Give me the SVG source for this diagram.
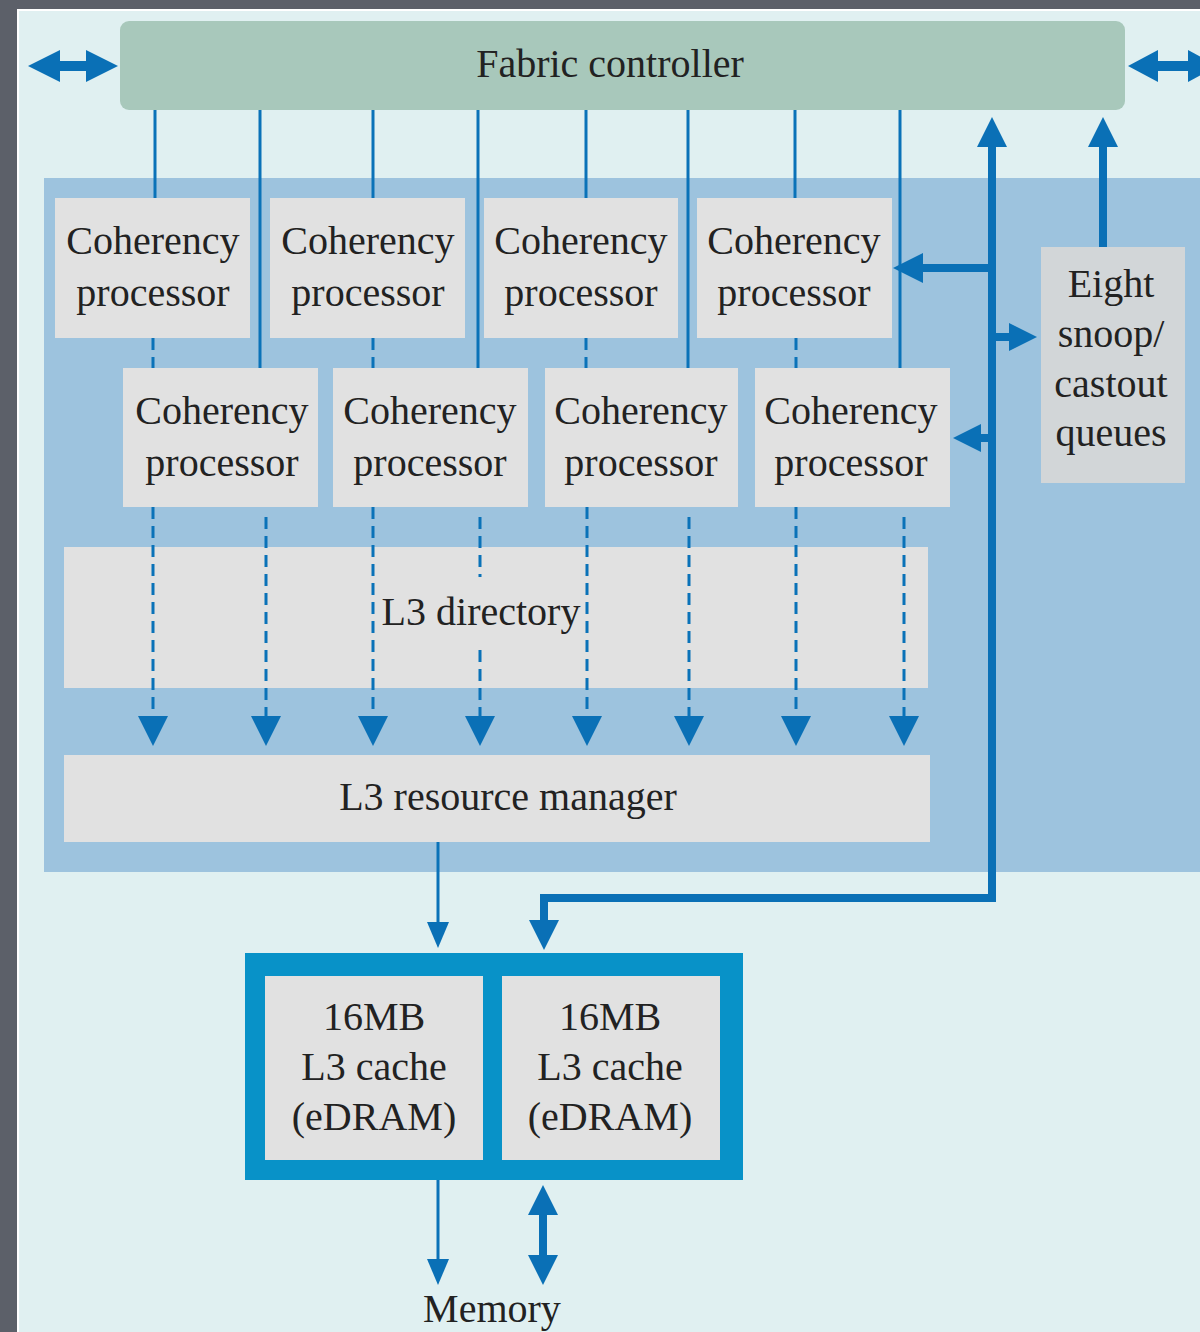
<svg xmlns="http://www.w3.org/2000/svg" width="1200" height="1332" viewBox="0 0 1200 1332">
  <style>
    .t { font-family: "Liberation Serif", "Times New Roman", serif; font-size: 40px; fill: #222; text-anchor: middle; }
    .box { fill: #e1e1e1; }
    .thin { stroke: #0a72b8; stroke-width: 3; fill: none; }
    .dash { stroke: #0a72b8; stroke-width: 3; fill: none; stroke-dasharray: 12 7; }
    .thick { stroke: #0a70b6; stroke-width: 8; fill: none; }
    .head { fill: #0a70b6; }
  </style>

  <!-- page frame -->
  <rect x="0" y="0" width="1200" height="1332" fill="#5c6069"/>
  <rect x="17" y="9" width="1183" height="1323" fill="#ffffff"/>
  <rect x="19" y="11" width="1181" height="1321" fill="#e0f0f1"/>

  <!-- chip region -->
  <rect id="chip-region" x="44" y="178" width="1156" height="694" fill="#9dc3de"/>

  <g id="fabric-controller">
    <rect x="120" y="21" width="1005" height="89" rx="9" fill="#a8c8bb"/>
    <text class="t" x="610" y="77">Fabric controller</text>
  </g>

  <g id="cp1"><rect class="box" x="55" y="198" width="195" height="140"/><text class="t" x="153" y="254">Coherency</text><text class="t" x="153" y="306">processor</text></g>
  <g id="cp2"><rect class="box" x="270" y="198" width="195" height="140"/><text class="t" x="368" y="254">Coherency</text><text class="t" x="368" y="306">processor</text></g>
  <g id="cp3"><rect class="box" x="484" y="198" width="194" height="140"/><text class="t" x="581" y="254">Coherency</text><text class="t" x="581" y="306">processor</text></g>
  <g id="cp4"><rect class="box" x="697" y="198" width="195" height="140"/><text class="t" x="794" y="254">Coherency</text><text class="t" x="794" y="306">processor</text></g>

  <g id="cp5"><rect class="box" x="123" y="368" width="195" height="139"/><text class="t" x="222" y="424">Coherency</text><text class="t" x="222" y="476">processor</text></g>
  <g id="cp6"><rect class="box" x="333" y="368" width="195" height="139"/><text class="t" x="430" y="424">Coherency</text><text class="t" x="430" y="476">processor</text></g>
  <g id="cp7"><rect class="box" x="545" y="368" width="193" height="139"/><text class="t" x="641" y="424">Coherency</text><text class="t" x="641" y="476">processor</text></g>
  <g id="cp8"><rect class="box" x="755" y="368" width="195" height="139"/><text class="t" x="851" y="424">Coherency</text><text class="t" x="851" y="476">processor</text></g>

  <g id="snoop-queues">
    <rect x="1041" y="247" width="144" height="236" fill="#d2d6d8"/>
    <text class="t" x="1111" y="297">Eight</text>
    <text class="t" x="1111" y="347">snoop/</text>
    <text class="t" x="1111" y="397">castout</text>
    <text class="t" x="1111" y="446">queues</text>
  </g>

  <g id="l3-directory">
    <rect class="box" x="64" y="547" width="864" height="141"/>
    <text class="t" x="481" y="625">L3 directory</text>
  </g>

  <g id="l3-resource-manager">
    <rect class="box" x="64" y="755" width="866" height="87"/>
    <text class="t" x="508" y="810">L3 resource manager</text>
  </g>

  <g id="l3-cache">
    <rect x="245" y="953" width="498" height="227" fill="#0892c8"/>
    <rect class="box" x="265" y="976" width="218" height="184"/>
    <rect class="box" x="502" y="976" width="218" height="184"/>
    <text class="t" x="374" y="1030">16MB</text>
    <text class="t" x="374" y="1080">L3 cache</text>
    <text class="t" x="374" y="1130">(eDRAM)</text>
    <text class="t" x="610" y="1030">16MB</text>
    <text class="t" x="610" y="1080">L3 cache</text>
    <text class="t" x="610" y="1130">(eDRAM)</text>
  </g>

  <g id="memory">
    <text class="t" x="492" y="1322">Memory</text>
  </g>

  <g id="connectors">
    <!-- external fabric links -->
    <line class="thick" x1="56" y1="66" x2="92" y2="66" style="stroke-width:10"/>
    <polygon class="head" points="28,66 60,50 60,82"/>
    <polygon class="head" points="118,66 86,50 86,82"/>
    <line class="thick" x1="1154" y1="66" x2="1192" y2="66" style="stroke-width:10"/>
    <polygon class="head" points="1128,66 1158,50 1158,82"/>
    <polygon class="head" points="1218,66 1188,50 1188,82"/>

    <!-- fabric to coherency processors -->
    <line class="thin" x1="155" y1="110" x2="155" y2="198"/>
    <line class="thin" x1="373" y1="110" x2="373" y2="198"/>
    <line class="thin" x1="586" y1="110" x2="586" y2="198"/>
    <line class="thin" x1="795" y1="110" x2="795" y2="198"/>
    <line class="thin" x1="260" y1="110" x2="260" y2="368"/>
    <line class="thin" x1="478" y1="110" x2="478" y2="368"/>
    <line class="thin" x1="688" y1="110" x2="688" y2="368"/>
    <line class="thin" x1="900" y1="110" x2="900" y2="368"/>

    <!-- processors to resource manager -->
    <line class="dash" x1="153" y1="338" x2="153" y2="368"/>
    <line class="dash" x1="373" y1="338" x2="373" y2="368"/>
    <line class="dash" x1="586" y1="338" x2="586" y2="368"/>
    <line class="dash" x1="796" y1="338" x2="796" y2="368"/>
    <line class="dash" x1="153" y1="507" x2="153" y2="718"/>
    <line class="dash" x1="373" y1="507" x2="373" y2="718"/>
    <line class="dash" x1="587" y1="507" x2="587" y2="718"/>
    <line class="dash" x1="796" y1="507" x2="796" y2="718"/>
    <line class="dash" x1="266" y1="517" x2="266" y2="718"/>
    <line class="dash" x1="480" y1="517" x2="480" y2="577"/>
    <line class="dash" x1="480" y1="650" x2="480" y2="718"/>
    <line class="dash" x1="689" y1="517" x2="689" y2="718"/>
    <line class="dash" x1="904" y1="517" x2="904" y2="718"/>
    <polygon class="head" points="138,716 168,716 153,746"/>
    <polygon class="head" points="251,716 281,716 266,746"/>
    <polygon class="head" points="358,716 388,716 373,746"/>
    <polygon class="head" points="465,716 495,716 480,746"/>
    <polygon class="head" points="572,716 602,716 587,746"/>
    <polygon class="head" points="674,716 704,716 689,746"/>
    <polygon class="head" points="781,716 811,716 796,746"/>
    <polygon class="head" points="889,716 919,716 904,746"/>

    <!-- snoop bus -->
    <polyline class="thick" points="992,145 992,898 544,898 544,922"/>
    <polygon class="head" points="992,117 977,147 1007,147"/>
    <polygon class="head" points="529,920 559,920 544,950"/>
    <line class="thick" x1="1103" y1="145" x2="1103" y2="247"/>
    <polygon class="head" points="1103,117 1088,147 1118,147"/>
    <line class="thick" x1="920" y1="268" x2="992" y2="268"/>
    <polygon class="head" points="893,268 923,253 923,283"/>
    <line class="thick" x1="992" y1="337" x2="1012" y2="337"/>
    <polygon class="head" points="1037,337 1009,323 1009,351"/>
    <line class="thick" x1="978" y1="438" x2="992" y2="438"/>
    <polygon class="head" points="953,438 981,424 981,452"/>

    <!-- resource manager to cache -->
    <line class="thin" x1="438" y1="842" x2="438" y2="925"/>
    <polygon class="head" points="427,922 449,922 438,948"/>

    <!-- cache to memory -->
    <line class="thin" x1="438" y1="1180" x2="438" y2="1262"/>
    <polygon class="head" points="427,1259 449,1259 438,1285"/>
    <line class="thick" x1="543" y1="1212" x2="543" y2="1258"/>
    <polygon class="head" points="543,1185 528,1215 558,1215"/>
    <polygon class="head" points="528,1255 558,1255 543,1285"/>
  </g>
</svg>
